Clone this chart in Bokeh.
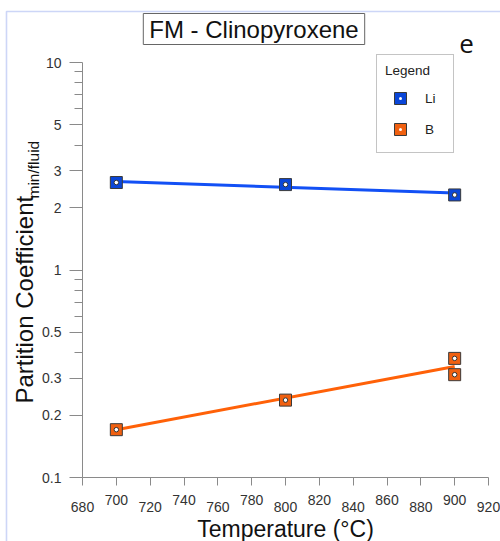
import math
from bokeh.plotting import figure
from bokeh.models import (Range1d, FixedTicker, Label, Legend, LegendItem,
                          BoxAnnotation)
from bokeh.embed import file_html
from bokeh.resources import INLINE

# ---- data ----
temp_li = [700, 800, 900]
li_values = [2.64, 2.58, 2.30]
temp_b = [700, 800, 900, 900]
b_values = [0.170, 0.236, 0.375, 0.313]
fit_temp = [700, 900]
li_fit = [2.67, 2.35]
b_fit = [0.170, 0.343]

x_ticks = [680, 700, 720, 740, 760, 780, 800, 820, 840, 860, 880, 900, 920]
x_upper_labels = [700, 740, 780, 820, 860, 900]
x_lower_labels = [680, 720, 760, 800, 840, 880, 920]
y_major_ticks = [0.1, 0.2, 0.3, 0.5, 1, 2, 3, 5, 10]
y_major_labels = ["0.1", "0.2", "0.3", "0.5", "1", "2", "3", "5", "10"]
y_minor_ticks = [0.4, 0.6, 0.7, 0.8, 0.9, 4, 6, 7, 8, 9]

FONT = "Liberation Sans"
BLUE_FILL = "#0a46d8"
BLUE_LINE = "#1250f5"
ORANGE_FILL = "#f06010"
ORANGE_LINE = "#ff6108"
AXIS_GREY = "#8a8a8a"

W, H = 500, 541
# plot area in pixels: x 82..488, y 62..477 (top-down)
FL, FR, FT, FB = 82, 488, 62, 477
xs = (920 - 680) / (FR - FL)
x0 = 680 - FL * xs
x1 = 920 + (W - FR) * xs
dec = (FB - FT) / 2.0
y0 = 10 ** (-1 - (H - FB) / dec)
y1 = 10 ** (1 + FT / dec)

p = figure(title=None, width=W, height=H, frame_width=W, frame_height=H,
           min_border=0, y_axis_type="log",
           x_range=Range1d(x0, x1), y_range=Range1d(y0, y1),
           output_backend="svg", toolbar_location=None)
p.outline_line_color = None
p.grid.visible = False
p.background_fill_color = "white"
p.border_fill_color = "white"

# x axis
xa = p.xaxis[0]
xa.fixed_location = 0.1
xa.bounds = (680, 920)
xa.ticker = FixedTicker(ticks=x_ticks)
xa.major_label_overrides = {t: (str(t) if t in x_upper_labels else "") for t in x_ticks}
xa.major_tick_out = 8
xa.major_tick_in = 0
xa.minor_tick_out = 0
xa.minor_tick_in = 0
xa.major_label_standoff = 9
xa.axis_line_color = AXIS_GREY
xa.major_tick_line_color = AXIS_GREY
xa.major_label_text_font = FONT
xa.major_label_text_font_size = "14px"
xa.major_label_text_color = "#333333"

# y axis
ya = p.yaxis[0]
ya.fixed_location = 680
ya.bounds = (0.1, 10)
ya.ticker = FixedTicker(ticks=y_major_ticks, minor_ticks=y_minor_ticks)
ya.major_label_overrides = dict(zip(y_major_ticks, y_major_labels))
ya.major_tick_out = 13
ya.major_tick_in = 0
ya.minor_tick_out = 8
ya.minor_tick_in = 0
ya.major_label_standoff = 8
ya.axis_line_color = AXIS_GREY
ya.major_tick_line_color = AXIS_GREY
ya.minor_tick_line_color = AXIS_GREY
ya.major_label_text_font = FONT
ya.major_label_text_font_size = "14px"
ya.major_label_text_color = "#333333"

# lower (staggered) x tick labels
for t in x_lower_labels:
    p.add_layout(Label(x=t, y=H - 506, x_units="data", y_units="screen", text=str(t),
                       text_align="center", text_baseline="middle",
                       text_font=FONT, text_font_size="14px", text_color="#333333"))

# axis titles
p.add_layout(Label(x=285, y=H - 528, x_units="screen", y_units="screen",
                   text="Temperature (°C)", text_align="center",
                   text_baseline="middle", text_font=FONT,
                   text_font_size="23px", text_color="#111111"))
p.add_layout(Label(x=24, y=H - 403, x_units="screen", y_units="screen",
                   text="Partition Coefficient", angle=math.pi / 2,
                   text_align="left", text_baseline="middle",
                   text_font=FONT, text_font_size="24px", text_color="#111111"))
p.add_layout(Label(x=33, y=H - 198, x_units="screen", y_units="screen",
                   text="min/fluid", angle=math.pi / 2,
                   text_align="left", text_baseline="middle",
                   text_font=FONT, text_font_size="15.5px", text_color="#111111"))

# fit lines
p.line(fit_temp, li_fit, line_color=BLUE_LINE, line_width=3)
p.line(fit_temp, b_fit, line_color=ORANGE_LINE, line_width=3)

# markers
li_sq = p.scatter(temp_li, li_values, marker="square", size=12,
                  fill_color=BLUE_FILL, line_color="#3a3a3a", line_width=1)
li_pt = p.scatter(temp_li, li_values, marker="dot", size=14, line_color="white")
p.scatter(temp_li, li_values, marker="circle", size=4.5,
          fill_color="white", line_color="#333333", line_width=1)
b_sq = p.scatter(temp_b, b_values, marker="square", size=12,
                 fill_color=ORANGE_FILL, line_color="#3a3a3a", line_width=1)
b_pt = p.scatter(temp_b, b_values, marker="dot", size=14, line_color="white")
p.scatter(temp_b, b_values, marker="circle", size=4.5,
          fill_color="white", line_color="#333333", line_width=1)

legend = Legend(items=[LegendItem(label="Li", renderers=[li_sq, li_pt]),
                       LegendItem(label="B", renderers=[b_sq, b_pt])],
                location=(376, H - 153), title="Legend",
                title_text_font=FONT, title_text_font_size="13.5px",
                title_text_font_style="normal", title_text_color="#222222",
                title_standoff=5,
                label_text_font=FONT, label_text_font_size="13.5px",
                label_text_color="#222222",
                glyph_width=30, glyph_height=30, label_height=30,
                label_standoff=10, spacing=1, padding=8, margin=0,
                border_line_color=AXIS_GREY, border_line_width=1,
                background_fill_color="white", background_fill_alpha=1)
p.add_layout(legend)

# boxed title
p.add_layout(Label(x=253.5, y=H - 28.5, x_units="screen", y_units="screen",
                   text="FM - Clinopyroxene", text_align="center",
                   text_baseline="middle", text_font=FONT,
                   text_font_size="24px", text_color="#111111",
                   border_line_color="#666666", border_line_width=1,
                   background_fill_color="white",
                   padding=dict(left=6, right=6, top=2, bottom=2)))

# panel letter
p.add_layout(Label(x=466, y=H - 43, x_units="screen", y_units="screen",
                   text="e", text_align="center", text_baseline="middle",
                   text_font="Open Sans", text_font_size="26px",
                   text_color="#111111"))

# blue selection frame
p.add_layout(BoxAnnotation(left=6, right=W + 50, top=H - 11, bottom=-50,
                           left_units="screen", right_units="screen",
                           top_units="screen", bottom_units="screen",
                           fill_alpha=0, line_color="#5a78e6", line_width=1.6))

open("out.html", "w").write(file_html(p, INLINE))
